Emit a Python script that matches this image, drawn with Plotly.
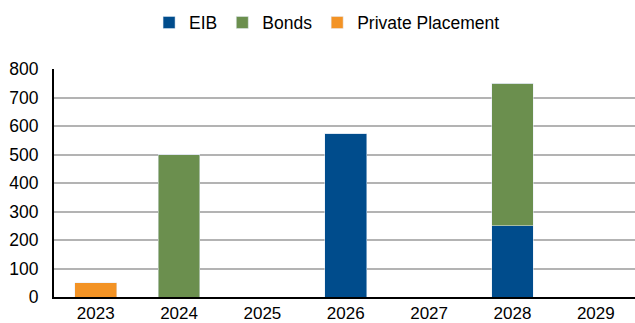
import plotly.graph_objects as go

years = ["2023", "2024", "2025", "2026", "2027", "2028", "2029"]
eib = [0, 0, 0, 575, 0, 250, 0]
bonds = [0, 500, 0, 0, 0, 500, 0]
private_placement = [50, 0, 0, 0, 0, 0, 0]
y_ticks = [0, 100, 200, 300, 400, 500, 600, 700, 800]

fig = go.Figure()
fig.add_trace(go.Bar(name="EIB", x=years, y=eib, marker_color="#004C8C"))
fig.add_trace(go.Bar(name="Bonds", x=years, y=bonds, marker_color="#6B8F4E"))
fig.add_trace(go.Bar(name="Private Placement", x=years, y=private_placement,
                     marker_color="#F39325"))

fig.update_layout(
    width=635, height=323,
    barmode="stack", bargap=0.5,
    plot_bgcolor="white", paper_bgcolor="white",
    margin=dict(l=54, r=0, t=69, b=26, autoexpand=False),
    font=dict(family="Liberation Sans, Arial, sans-serif", size=17.5, color="#000000"),
    legend=dict(orientation="h", x=0.47, xanchor="center", yref="container",
                y=0.93, yanchor="middle", font=dict(size=17.5),
                itemwidth=30, traceorder="normal"),
    xaxis=dict(showline=True, linecolor="#000000", linewidth=2, ticks="",
               range=[-0.5, 6.47], showgrid=False, ticklabelstandoff=0,
               tickfont=dict(size=17)),
    yaxis=dict(range=[0, 800], tickvals=y_ticks, showgrid=True, gridcolor="#B3B3B3",
               gridwidth=1.5, showline=True, linecolor="#000000", linewidth=2,
               ticks="", ticklabelstandoff=10, zeroline=False),
)

fig.write_html("out.html")
